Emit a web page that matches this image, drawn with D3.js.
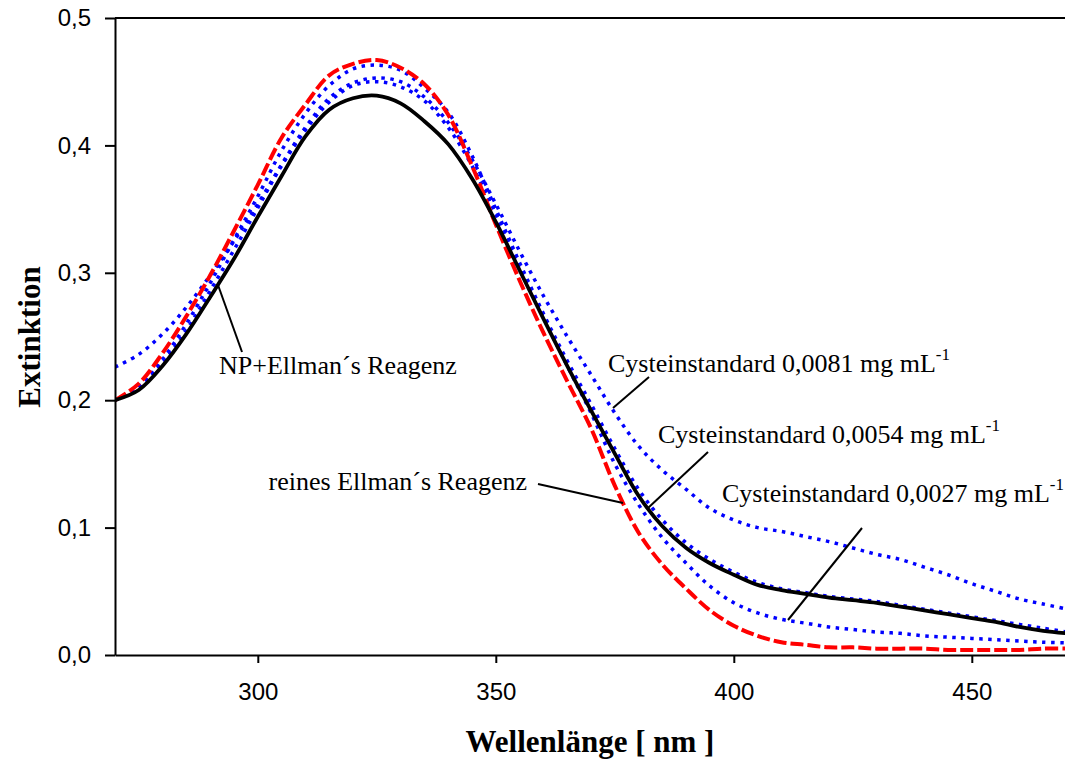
<!DOCTYPE html>
<html>
<head>
<meta charset="utf-8">
<script src="https://cdn.jsdelivr.net/npm/d3@7"></script>
<style>
  body { margin: 0; background: #fff; }
  .tick text { font-family: "Liberation Sans", Arial, sans-serif; font-size: 24px; fill: #000; }
</style>
</head>
<body>
<svg width="1065" height="760"></svg>
<script>
const svgWidth = 1065;
const svgHeight = 760;

// wavelength grid (nm)
const wavelengths = [270, 275, 280, 285, 290, 295, 300, 305, 310, 315, 320, 325, 330, 335, 340,
                     345, 350, 355, 360, 365, 370, 375, 380, 385, 390, 395, 400, 405, 410, 415,
                     420, 425, 430, 435, 440, 445, 450, 455, 460, 465, 470];

// NP + Ellman's reagent (black)
const npEllman = [0.200, 0.208, 0.227, 0.252, 0.281, 0.311, 0.344, 0.376, 0.407, 0.428, 0.437,
                  0.439, 0.433, 0.419, 0.401, 0.374, 0.340, 0.302, 0.264, 0.227, 0.192, 0.158,
                  0.125, 0.101, 0.084, 0.072, 0.063, 0.055, 0.051, 0.048, 0.045, 0.043, 0.041,
                  0.038, 0.035, 0.032, 0.029, 0.026, 0.022, 0.019, 0.017];

// pure Ellman's reagent (red)
const reinesEllman = [0.200, 0.213, 0.237, 0.266, 0.298, 0.333, 0.369, 0.406, 0.432, 0.455, 0.464,
                      0.467, 0.461, 0.448, 0.424, 0.384, 0.338, 0.294, 0.253, 0.215, 0.178, 0.133,
                      0.096, 0.071, 0.052, 0.035, 0.023, 0.015, 0.010, 0.008, 0.006, 0.006, 0.005,
                      0.005, 0.005, 0.004, 0.004, 0.004, 0.004, 0.005, 0.005];

// cysteine standards (blue, dotted)
const cys0081 = [0.226, 0.236, 0.252, 0.273, 0.298, 0.325, 0.354, 0.385, 0.414, 0.437, 0.449,
                 0.453, 0.450, 0.438, 0.418, 0.389, 0.354, 0.317, 0.282, 0.250, 0.220, 0.190,
                 0.164, 0.145, 0.130, 0.115, 0.106, 0.100, 0.097, 0.093, 0.089, 0.084, 0.079,
                 0.075, 0.069, 0.063, 0.056, 0.050, 0.044, 0.040, 0.036];
const cys0054 = [0.200, 0.211, 0.232, 0.260, 0.292, 0.326, 0.360, 0.396, 0.425, 0.447, 0.460,
                 0.463, 0.459, 0.445, 0.426, 0.392, 0.350, 0.308, 0.268, 0.231, 0.197, 0.162,
                 0.130, 0.106, 0.088, 0.075, 0.065, 0.057, 0.052, 0.049, 0.046, 0.044, 0.042,
                 0.039, 0.036, 0.033, 0.030, 0.027, 0.024, 0.021, 0.018];
const cys0027 = [0.200, 0.210, 0.229, 0.255, 0.286, 0.318, 0.351, 0.384, 0.412, 0.434, 0.447,
                 0.450, 0.446, 0.435, 0.414, 0.384, 0.346, 0.304, 0.265, 0.227, 0.190, 0.150,
                 0.118, 0.092, 0.072, 0.054, 0.041, 0.033, 0.028, 0.025, 0.022, 0.020, 0.018,
                 0.017, 0.015, 0.014, 0.013, 0.012, 0.011, 0.010, 0.0095];

const xTicks = [300, 350, 400, 450];
const yTicks = [0, 0.1, 0.2, 0.3, 0.4, 0.5];

const svg = d3.select('svg');

const x = d3.scaleLinear().domain([270, 470]).range([115, 1067]);
const y = d3.scaleLinear().domain([0, 0.5]).range([655, 18]);

svg.append('clipPath').attr('id', 'plotClip')
  .append('rect')
  .attr('x', 115).attr('y', 0)
  .attr('width', svgWidth - 115).attr('height', 656);

const line = d3.line()
  .x((d, i) => x(wavelengths[i]))
  .y(d => y(d))
  .curve(d3.curveCatmullRom);

const series = [
  { values: cys0081, color: '#0000ff', width: 3.5, dash: '3.5,5.5' },
  { values: cys0054, color: '#0000ff', width: 3.5, dash: '3.5,5.5' },
  { values: cys0027, color: '#0000ff', width: 3.5, dash: '3.5,5.5' },
  { values: reinesEllman, color: '#ff0000', width: 4, dash: '13,4' },
  { values: npEllman, color: '#000000', width: 3.8, dash: null }
];

svg.append('g')
  .attr('clip-path', 'url(#plotClip)')
  .selectAll('path')
  .data(series)
  .join('path')
  .attr('d', d => line(d.values))
  .attr('fill', 'none')
  .attr('stroke', d => d.color)
  .attr('stroke-width', d => d.width)
  .attr('stroke-dasharray', d => d.dash);

// axes
svg.append('g')
  .attr('transform', 'translate(0,' + y(0) + ')')
  .call(d3.axisBottom(x).tickValues(xTicks).tickSize(8).tickSizeOuter(0).tickPadding(20));

svg.append('g')
  .attr('transform', 'translate(' + x(270) + ',0)')
  .call(d3.axisLeft(y).tickValues(yTicks).tickSize(10).tickSizeOuter(0).tickPadding(14)
    .tickFormat(d => d3.format('.1f')(d).replace('.', ',')));

svg.selectAll('.domain, .tick line').attr('stroke', '#000').attr('stroke-width', 2);

svg.append('line')
  .attr('x1', x(270)).attr('x2', svgWidth)
  .attr('y1', y(0.5)).attr('y2', y(0.5))
  .attr('stroke', '#000').attr('stroke-width', 2);

// axis titles
svg.append('text')
  .attr('x', 590).attr('y', 752)
  .attr('text-anchor', 'middle')
  .style('font-family', '"Liberation Serif", "Times New Roman", serif')
  .style('font-size', '31px').style('font-weight', 'bold')
  .text('Wellenlänge [ nm ]');

svg.append('text')
  .attr('transform', 'translate(40,337) rotate(-90)')
  .attr('text-anchor', 'middle')
  .style('font-family', '"Liberation Serif", "Times New Roman", serif')
  .style('font-size', '31px').style('font-weight', 'bold')
  .text('Extinktion');

// annotations
const notes = [
  { text: 'NP+Ellman´s Reagenz', sup: null, tx: 219, ty: 374, anchor: 'start', line: [218, 285, 242, 352] },
  { text: 'Cysteinstandard 0,0081 mg mL', sup: '-1', tx: 608, ty: 372, anchor: 'start', line: [649, 377, 613, 408] },
  { text: 'Cysteinstandard 0,0054 mg mL', sup: '-1', tx: 658, ty: 443, anchor: 'start', line: [708, 452, 648, 508] },
  { text: 'reines Ellman´s Reagenz', sup: null, tx: 527, ty: 490, anchor: 'end', line: [538, 484, 623, 503] },
  { text: 'Cysteinstandard 0,0027 mg mL', sup: '-1', tx: 722, ty: 502, anchor: 'start', line: [862, 528, 788, 620] }
];

const noteG = svg.append('g');

noteG.selectAll('line')
  .data(notes)
  .join('line')
  .attr('x1', d => d.line[0]).attr('y1', d => d.line[1])
  .attr('x2', d => d.line[2]).attr('y2', d => d.line[3])
  .attr('stroke', '#000').attr('stroke-width', 2);

const noteText = noteG.selectAll('text')
  .data(notes)
  .join('text')
  .attr('x', d => d.tx).attr('y', d => d.ty)
  .attr('text-anchor', d => d.anchor)
  .style('font-family', '"Liberation Serif", "Times New Roman", serif')
  .style('font-size', '26px');

noteText.append('tspan').text(d => d.text);
noteText.filter(d => d.sup)
  .append('tspan')
  .attr('dy', -12)
  .style('font-size', '17px')
  .text(d => d.sup);
</script>
</body>
</html>
